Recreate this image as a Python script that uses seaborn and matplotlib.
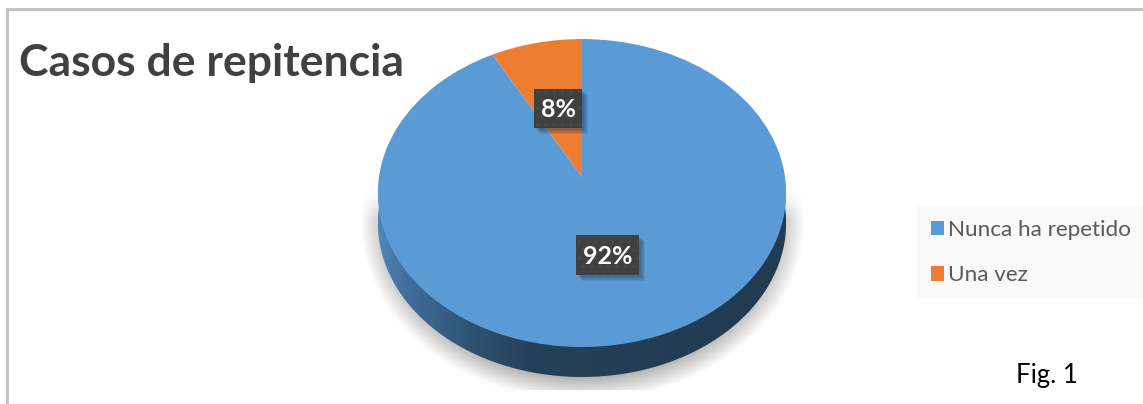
import numpy as np
import matplotlib
matplotlib.use("Agg")
import matplotlib.pyplot as plt
import matplotlib.transforms as mtransforms
from matplotlib.colors import LinearSegmentedColormap
from matplotlib.patches import Polygon, Rectangle
import seaborn as sns

categories = ["Nunca ha repetido", "Una vez"]
values = [92, 8]
colors = ["#5B9BD5", "#ED7D31"]
title = "Casos de repitencia"
note = "Fig. 1"

sns.set_style("white")
plt.rcParams["font.family"] = ["Lato", "DejaVu Sans"]
plt.rcParams["hatch.linewidth"] = 0.6

# tilted pie: apex in pixels, perspective
CX, CY, A, B, K = 582, 177, 203, 152.3, 0.104
DEPTH = 30


class Tilt(mtransforms.Transform):
    input_dims = 2
    output_dims = 2

    def transform_non_affine(self, xy):
        xy = np.asarray(xy, dtype=float)
        w = 1 + K * xy[:, 1]
        return np.column_stack([CX + A * xy[:, 0] / w, CY - B * xy[:, 1] / w])


fig = plt.figure(figsize=(11.43, 4.04), dpi=100)
ax = fig.add_axes([0, 0, 1, 1])

wedges, _ = ax.pie(values, colors=colors, startangle=90, counterclock=False,
                   radius=1, wedgeprops={"linewidth": 0})
for w in wedges:
    w.set_transform(Tilt() + ax.transData)
    w.set_zorder(5)

ax.set_aspect("auto")
ax.axis("off")

# soft shadow under the pie, cut off flat at the bottom
xx, yy = np.meshgrid(np.arange(340, 830), np.arange(190, 390))
d = np.sqrt(((xx - CX) / 222) ** 2 + ((yy - 222) / 178) ** 2)
alpha = np.clip((1 - d) / 0.14, 0, 1) * np.clip((yy - 190) / 30, 0, 1) * 0.8
shadow = np.zeros(xx.shape + (4,))
shadow[..., :3] = 0.6
shadow[..., 3] = alpha
ax.imshow(shadow, extent=(340, 830, 390, 190), aspect="auto", zorder=1)

# side of the pie, lighter on the left
th = np.radians(np.linspace(180, 360, 200))
rim = Tilt().transform_non_affine(np.column_stack([np.cos(th), np.sin(th)]))
rim[:, 1] += DEPTH
side = np.vstack([[CX - 204, 193], rim, [CX + 204, 193]])
side_cmap = LinearSegmentedColormap.from_list(
    "side", [(0, "#4f86ba"), (0.07, "#3f6f9c"), (0.22, "#2f5374"), (0.38, "#243f58"), (1, "#213b52")])
im = ax.imshow(np.linspace(0, 1, 256).reshape(1, -1), cmap=side_cmap,
               extent=(378, 786, 380, 190), aspect="auto", zorder=2)
im.set_clip_path(Polygon(side, closed=True, transform=ax.transData))

ax.set_xlim(0, 1143)
ax.set_ylim(404, 0)

# data labels, blurry shadow is a few stacked rectangles
boxes = [(576, 235, 63, 40), (534, 89, 48, 39)]
for v, (bx, by, bw, bh) in zip(values, boxes):
    for off in [2, 3, 4, 5, 6]:
        ax.add_patch(Rectangle((bx + off, by + off), bw, bh, facecolor="#1f3d5c", alpha=0.12,
                               linewidth=0, zorder=5.5))
    ax.add_patch(Rectangle((bx, by), bw, bh, facecolor="#404040", edgecolor="#4c4c4c",
                           hatch="..", linewidth=0, zorder=6))
    ax.text(bx + bw / 2, by + bh / 2 + 1, f"{v}%", color="white", fontsize=18, fontweight="bold",
            ha="center", va="center", zorder=7)

ax.text(19, 63, title, color="#404040", fontsize=32, fontweight="bold", ha="left", va="center", zorder=8)
ax.text(1016, 375, note, color="black", fontsize=18.5, ha="left", va="center")

leg = ax.legend(wedges, categories, loc="upper left", bbox_to_anchor=(917, 206),
                bbox_transform=ax.transData, borderaxespad=0, frameon=True, fancybox=False,
                facecolor="#f9f9f9", edgecolor="none", framealpha=1, fontsize=16.2,
                handlelength=0.6, handleheight=0.6, handletextpad=0.17,
                labelspacing=1.13, borderpad=0.62, labelcolor="#595959")
leg.set_zorder(4)

# frame of the pasted picture
ax.plot([7, 7, 1143], [404, 9, 9], color="#c0c0c0", linewidth=2, solid_joinstyle="miter", zorder=3)

fig.savefig("out.png", dpi=100)
